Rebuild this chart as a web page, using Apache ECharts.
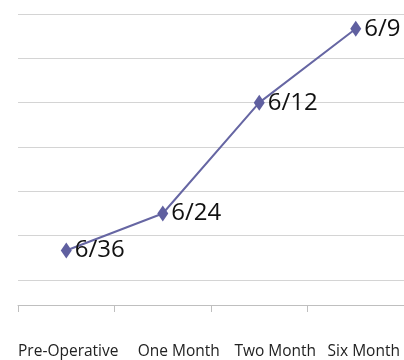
<!DOCTYPE html>
<html>
<head>
<meta charset="utf-8">
<script src="https://cdn.jsdelivr.net/npm/echarts@6/dist/echarts.min.js"></script>
<style>
  html, body { margin: 0; padding: 0; background: #fff; }
  #chart { width: 404px; height: 360px; }
</style>
</head>
<body>
<div id="chart"></div>
<script>
// Visual acuity at each follow-up visit
const categories = ['Pre-Operative', 'One Month', 'Two Month', 'Six Month'];
const acuityLabels = ['6/36', '6/24', '6/12', '6/9'];
// Decimal acuity (6/36, 6/24, 6/12, 6/9)
const acuityValues = [6 / 36, 6 / 24, 6 / 12, 6 / 9];

const labelFont = { color: '#222', fontFamily: 'Open Sans', fontSize: 15.5 };

const chart = echarts.init(document.getElementById('chart'));
chart.setOption({
  animation: false,
  grid: { left: 18, right: 0, top: 14, bottom: 80 },
  xAxis: {
    type: 'category',
    data: categories,
    boundaryGap: true,
    offset: 25,
    axisLine: { lineStyle: { color: '#bfbfbf', width: 1 } },
    axisTick: { show: true, interval: 0, length: 7, inside: false, lineStyle: { color: '#bfbfbf' } },
    axisLabel: {
      interval: 0,
      hideOverlap: false,
      margin: 39,
      ...labelFont,
      // category names sit a little right of their band centres
      formatter: (v, i) => '{c' + i + '|' + v + '}',
      rich: {
        c0: { ...labelFont, padding: [0, 0, 0, 4] },
        c1: { ...labelFont, padding: [0, 0, 0, 32] },
        c2: { ...labelFont, padding: [0, 0, 0, 32] },
        c3: { ...labelFont, padding: [0, 0, 0, 16] }
      }
    }
  },
  yAxis: {
    type: 'value',
    min: 0.1,
    max: 0.7,
    interval: 0.1,
    axisLine: { show: false },
    axisTick: { show: false },
    axisLabel: { show: false },
    splitLine: { lineStyle: { color: '#d4d4d4', width: 1 } }
  },
  series: [{
    type: 'line',
    data: acuityValues,
    symbol: 'diamond',
    symbolSize: [11, 16],
    lineStyle: { color: '#6666a3', width: 2 },
    itemStyle: { color: '#6060a0' },
    label: {
      show: true,
      position: 'right',
      distance: 3,
      color: '#111',
      fontFamily: 'Open Sans',
      fontSize: 24,
      formatter: p => acuityLabels[p.dataIndex]
    }
  }]
});
</script>
</body>
</html>
